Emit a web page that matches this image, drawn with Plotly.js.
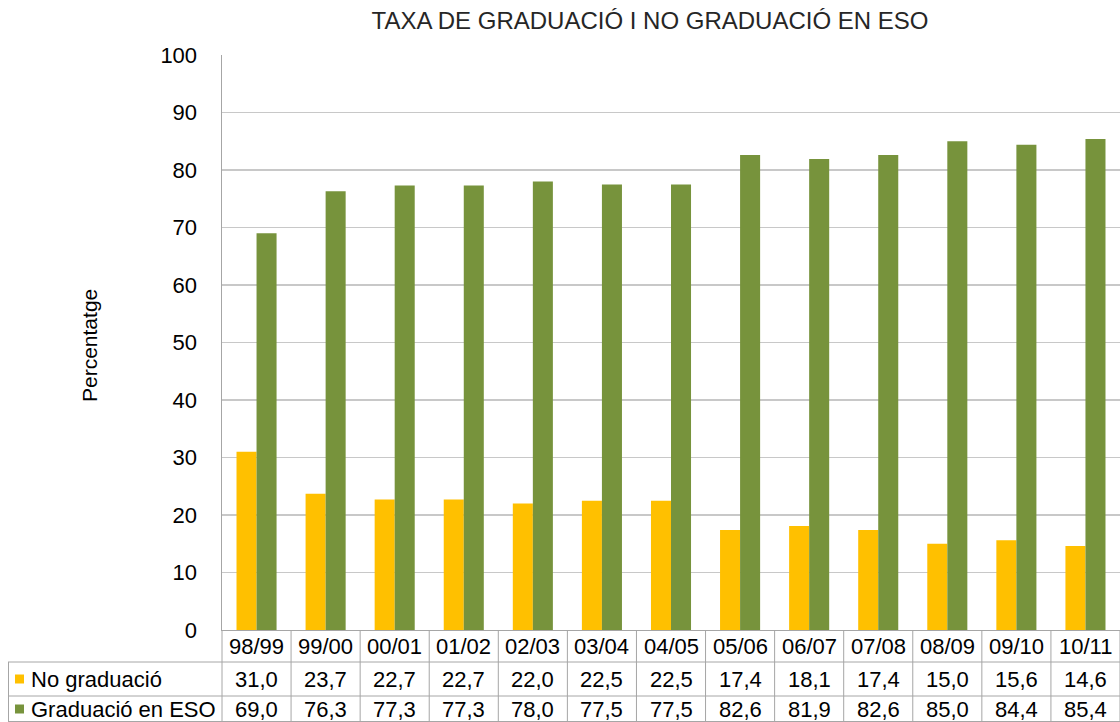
<!DOCTYPE html>
<html>
<head>
<meta charset="utf-8">
<script src="https://cdn.plot.ly/plotly-3.0.1.min.js"></script>
<style>html,body{margin:0;padding:0;background:#fff;}#chart{width:1120px;height:722px;}</style>
</head>
<body>
<div id="chart"></div>
<script>
const categories = ['98/99','99/00','00/01','01/02','02/03','03/04','04/05','05/06','06/07','07/08','08/09','09/10','10/11'];
const noGraduacio = [31.0, 23.7, 22.7, 22.7, 22.0, 22.5, 22.5, 17.4, 18.1, 17.4, 15.0, 15.6, 14.6];
const graduacioESO = [69.0, 76.3, 77.3, 77.3, 78.0, 77.5, 77.5, 82.6, 81.9, 82.6, 85.0, 84.4, 85.4];
const seriesNames = ['No graduació', 'Graduació en ESO'];
const yTicks = [0,10,20,30,40,50,60,70,80,90,100];

const W = 1120, H = 722, L = 222, R = 0, T = 55, B = 92;
const pw = W - L - R, ph = H - T - B;
const px = v => (v - L) / pw;            // pixel x -> paper
const py = v => (H - B - v) / ph;         // pixel y -> paper
const FONT = 'Liberation Sans, Arial, sans-serif';
const YEL = '#FFC000', GRN = '#77933C', LINE = '#A6A6A6';
const FS = 22;

const fmt = v => v.toFixed(1).replace('.', ',');
const n = categories.length;

const traces = [
  {type:'bar', x: categories, y: noGraduacio, name: seriesNames[0], marker:{color:YEL}, hoverinfo:'none'},
  {type:'bar', x: categories, y: graduacioESO, name: seriesNames[1], marker:{color:GRN}, hoverinfo:'none'}
];

const shapes = [];
const annotations = [];
[662, 696, 721.5].forEach(yy => shapes.push({type:'line', xref:'paper', yref:'paper', x0:px(8), x1:1, y0:py(yy), y1:py(yy), line:{color:LINE, width:1}}));
for (let i = 0; i <= n; i++) {
  shapes.push({type:'line', xref:'paper', yref:'paper', x0:i/n, x1:i/n, y0:0, y1:py(722), line:{color:LINE, width:1}});
}
shapes.push({type:'line', xref:'paper', yref:'paper', x0:px(8.5), x1:px(8.5), y0:py(662), y1:py(722), line:{color:LINE, width:1}});

const rowY = [679, 709];
const rowVals = [noGraduacio, graduacioESO];
const rowCols = [YEL, GRN];
categories.forEach((c, i) => {
  annotations.push({xref:'x', yref:'paper', x:c, y:py(646), text:c, showarrow:false, xanchor:'center', yanchor:'middle', font:{family:FONT, size:FS, color:'#000'}});
  rowVals.forEach((arr, r) => {
    annotations.push({xref:'x', yref:'paper', x:c, y:py(rowY[r]), text:fmt(arr[i]), showarrow:false, xanchor:'center', yanchor:'middle', font:{family:FONT, size:FS, color:'#000'}});
  });
});
seriesNames.forEach((nm, r) => {
  shapes.push({type:'rect', xref:'paper', yref:'paper', x0:px(15), x1:px(24), y0:py(rowY[r]-4.5), y1:py(rowY[r]+4.5), fillcolor:rowCols[r], line:{width:0}});
  annotations.push({xref:'paper', yref:'paper', x:px(29), y:py(rowY[r]), text:nm, showarrow:false, xanchor:'left', yanchor:'middle', font:{family:FONT, size:FS, color:'#000'}});
});
annotations.push({xref:'paper', yref:'paper', x:px(89), y:py(346), text:'Percentatge', textangle:-90, showarrow:false, xanchor:'center', yanchor:'middle', font:{family:FONT, size:21, color:'#000'}});

const layout = {
  width: W, height: H,
  margin:{l:L, r:R, t:T, b:B, pad:0},
  paper_bgcolor:'#fff', plot_bgcolor:'#fff',
  title:{text:'TAXA DE GRADUACIÓ I NO GRADUACIÓ EN ESO', x:650/W, xanchor:'center', y:1-21/H, yanchor:'middle', font:{family:FONT, size:24, color:'#262626'}},
  showlegend:false,
  barmode:'group', bargap:0.42, bargroupgap:0,
  xaxis:{type:'category', range:[-0.5, n-0.5], showticklabels:false, ticks:'', showgrid:false, showline:true, linecolor:LINE, linewidth:1, zeroline:false, fixedrange:true},
  yaxis:{range:[0,100], tickvals:yTicks, ticktext:yTicks.map(String), showgrid:true, gridcolor:'#C8C8C8', gridwidth:1.5, showline:true, linecolor:LINE, linewidth:1.5, zeroline:false, ticks:'', ticklabelstandoff:19, tickfont:{family:FONT, size:FS, color:'#000'}, fixedrange:true},
  shapes: shapes,
  annotations: annotations
};
Plotly.newPlot('chart', traces, layout, {displayModeBar:false, staticPlot:true});
</script>
</body>
</html>
